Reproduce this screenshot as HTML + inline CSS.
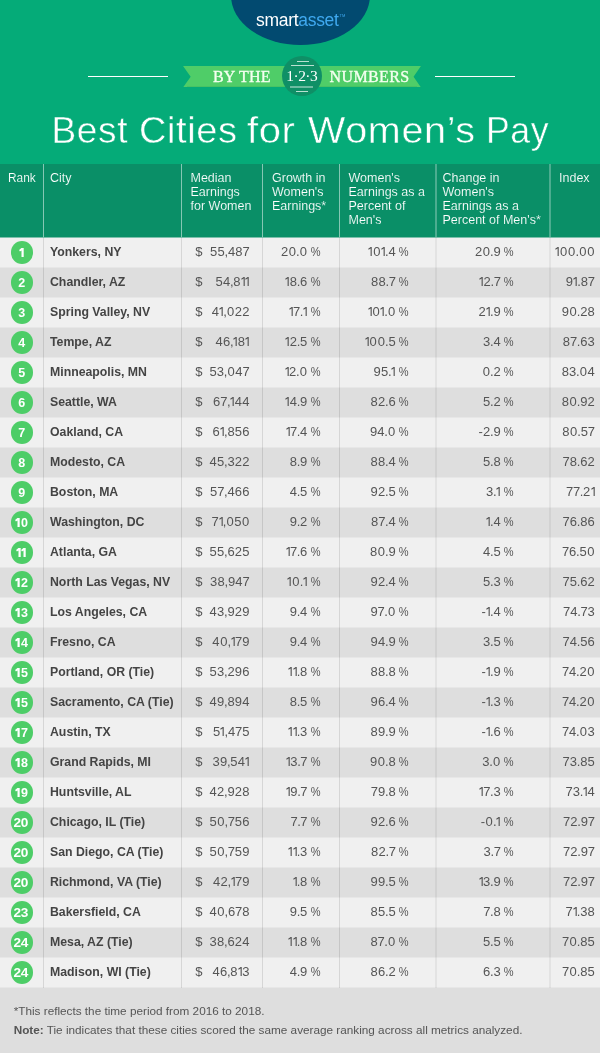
<!DOCTYPE html>
<html><head><meta charset="utf-8"><title>Best Cities for Women's Pay</title>
<style>
html,body{margin:0;padding:0;}
body{width:600px;height:1053px;position:relative;overflow:hidden;background:#05ab78;font-family:"Liberation Sans",sans-serif;}
.abs{position:absolute;}
#ell{left:230.5px;top:-54.5px;width:139px;height:99px;border-radius:50%;background:#024a70;}
#logo{left:256px;top:8.7px;height:22px;line-height:22px;font-size:17.5px;color:#fff;letter-spacing:-0.3px;white-space:nowrap;}
#logo .b{color:#3fa9f0;}
#logo .tm{font-size:4px;position:relative;top:-9px;left:1px;letter-spacing:0;color:#3fa9f0;-webkit-text-stroke:0;}
.hl{height:1.5px;background:#fff;top:75.6px;}
.ban{top:65.6px;height:21.2px;background:#4fcd68;}
.bt{font-family:"Liberation Serif",serif;font-size:16px;color:#f4fff0;line-height:21px;top:66.2px;white-space:nowrap;letter-spacing:0.2px;-webkit-text-stroke:0.35px #f4fff0;}
#circ{left:282px;top:56.2px;width:40px;height:40px;border-radius:50%;background:#0f8f66;}
#c123{font-family:"Liberation Serif",serif;font-size:15.5px;color:#fff;left:282px;width:40px;text-align:center;top:65.7px;line-height:20px;white-space:nowrap;letter-spacing:-0.55px;text-indent:-0.5px;}
.cl{background:#b9e0d1;height:1px;}
.tw{top:105.8px;font-size:37px;line-height:50px;color:#fff;white-space:nowrap;-webkit-text-stroke:0.45px #05ab78;letter-spacing:0.6px;transform-origin:0 50%;}
#thead{left:0;top:164px;width:600px;height:74px;background:#0a8f67;}
.th{color:#fff;font-size:12.5px;line-height:14px;top:171.4px;white-space:nowrap;-webkit-text-stroke:0.12px #0a8f67;}
.hd{top:164px;height:74px;width:1px;background:rgba(255,255,255,.5);}
.hd.w2{width:2px;background:rgba(255,255,255,.27);}
.row{left:0;width:600px;height:30px;}
.odd{background:#f0f0f0;}
.even{background:#dedede;}
.vd{top:238px;height:749.5px;width:1px;background:rgba(0,0,0,.105);}
.vd.w2{width:2px;background:rgba(0,0,0,.052);}
.rk .w{display:inline-block;transform:scaleX(1.09);letter-spacing:-0.45px;}
.bl{left:0;width:600px;height:1px;background:#e7e7e7;}
.rk{left:10.75px;width:22.2px;height:22.5px;border-radius:50%;background:#4dcd67;color:#fff;font-weight:bold;font-size:12.5px;line-height:24.5px;text-align:center;letter-spacing:-0.6px;text-indent:-0.8px;}
.city{left:50px;font-weight:bold;font-size:13px;color:#444;line-height:30px;white-space:nowrap;transform-origin:0 50%;transform:scaleX(0.945);}
.num{font-size:13px;color:#555;line-height:30px;white-space:nowrap;text-align:right;letter-spacing:0.2px;}
.num i{font-style:normal;}
.o{width:4.5px;height:9.1px;fill:#555;overflow:visible;}
.bo{width:5.6px;height:8.9px;fill:#fff;overflow:visible;}
.num .d0{margin:0 0.33px;}
.num .d7{margin:0 -0.25px;}
.num .dp{margin:0 -0.45px;}
.pct{font-size:13px;color:#555;line-height:30px;transform-origin:100% 50%;transform:scaleX(0.85);}
.dol{left:195.3px;font-size:13px;color:#555;line-height:30px;}
#foot{left:0;top:987px;width:600px;height:66px;background:#dedede;}
.fn{left:13.7px;font-size:11.75px;color:#555;white-space:nowrap;line-height:14px;transform-origin:0 50%;}
</style></head>
<body>
<div id="wrap" style="position:absolute;left:0;top:0;width:600px;height:1053px;will-change:transform;">
<svg width="0" height="0" style="position:absolute"><defs><path id="o1" d="M2.65 0H3.75V9.1H2.6V1.45L0.65 2.75L0.2 1.85Z"/><path id="b1" d="M2.4 0H4.7V8.9H2.5V2.5L0.9 3.6L0.1 2.0Z"/></defs></svg>
<div class="abs" id="ell"></div>
<div class="abs" id="logo">smart<span class="b">asset</span><span class="tm">TM</span></div>
<div class="abs hl" style="left:88px;width:80px"></div>
<div class="abs hl" style="left:434.5px;width:80px"></div>
<svg class="abs" style="left:183px;top:65.6px" width="238" height="21.4" viewBox="0 0 238 21.4"><polygon points="0,0 238,0 230.6,10.7 238,21.4 0,21.4 7.6,10.7" fill="#4fcd68"/><rect x="4" y="20.2" width="230" height="1.2" fill="#3fb55e" opacity="0.55"/></svg>
<div class="abs bt" style="left:213px">BY THE</div>
<div class="abs bt" style="left:329.6px;letter-spacing:0.38px">NUMBERS</div>
<div class="abs" id="circ"></div>
<div class="abs cl" style="left:297px;width:11.5px;top:60.8px"></div>
<div class="abs cl" style="left:291px;width:23px;top:65px"></div>
<div class="abs cl" style="left:290px;width:23px;top:86.2px;height:1.6px;opacity:.55"></div>
<div class="abs cl" style="left:296px;width:12px;top:90.8px"></div>
<div class="abs" id="c123">1&middot;2&middot;3</div>
<div class="abs tw" style="left:51.6px;transform:scaleX(1.0)">Best</div>
<div class="abs tw" style="left:138.7px;transform:scaleX(1.027)">Cities</div>
<div class="abs tw" style="left:247.2px;transform:scaleX(1.08)">for</div>
<div class="abs tw" style="left:308.2px;transform:scaleX(1.068)">Women&rsquo;s</div>
<div class="abs tw" style="left:485.7px;transform:scaleX(0.963)">Pay</div>
<div class="abs" id="thead"></div>
<div class="abs hd" style="left:43px"></div>
<div class="abs hd" style="left:181px"></div>
<div class="abs hd" style="left:262px"></div>
<div class="abs hd" style="left:339px"></div>
<div class="abs hd w2" style="left:435px"></div>
<div class="abs hd w2" style="left:549px"></div>
<div class="abs th" style="left:7.5px"><span style="display:inline-block;transform:scaleX(.95);transform-origin:0 50%">Rank</span></div>
<div class="abs th" style="left:50px">City</div>
<div class="abs th" style="left:190.5px">Median<br>Earnings<br>for Women</div>
<div class="abs th" style="left:272px">Growth in<br>Women's<br>Earnings*</div>
<div class="abs th" style="left:348.5px">Women's<br>Earnings as a<br>Percent of<br>Men's</div>
<div class="abs th" style="left:442.5px">Change in<br>Women's<br>Earnings as a<br>Percent of Men's*</div>
<div class="abs th" style="left:559px">Index</div>
<div class="abs row odd" style="top:237px"></div>
<div class="abs row even" style="top:267px"></div>
<div class="abs row odd" style="top:297px"></div>
<div class="abs row even" style="top:327px"></div>
<div class="abs row odd" style="top:357px"></div>
<div class="abs row even" style="top:387px"></div>
<div class="abs row odd" style="top:417px"></div>
<div class="abs row even" style="top:447px"></div>
<div class="abs row odd" style="top:477px"></div>
<div class="abs row even" style="top:507px"></div>
<div class="abs row odd" style="top:537px"></div>
<div class="abs row even" style="top:567px"></div>
<div class="abs row odd" style="top:597px"></div>
<div class="abs row even" style="top:627px"></div>
<div class="abs row odd" style="top:657px"></div>
<div class="abs row even" style="top:687px"></div>
<div class="abs row odd" style="top:717px"></div>
<div class="abs row even" style="top:747px"></div>
<div class="abs row odd" style="top:777px"></div>
<div class="abs row even" style="top:807px"></div>
<div class="abs row odd" style="top:837px"></div>
<div class="abs row even" style="top:867px"></div>
<div class="abs row odd" style="top:897px"></div>
<div class="abs row even" style="top:927px"></div>
<div class="abs row odd" style="top:957px"></div>
<div class="abs" id="foot"></div>
<div class="abs" style="left:0;width:600px;height:1px;top:237px;background:#7dc0ac"></div>
<div class="abs bl" style="top:267px"></div>
<div class="abs bl" style="top:297px"></div>
<div class="abs bl" style="top:327px"></div>
<div class="abs bl" style="top:357px"></div>
<div class="abs bl" style="top:387px"></div>
<div class="abs bl" style="top:417px"></div>
<div class="abs bl" style="top:447px"></div>
<div class="abs bl" style="top:477px"></div>
<div class="abs bl" style="top:507px"></div>
<div class="abs bl" style="top:537px"></div>
<div class="abs bl" style="top:567px"></div>
<div class="abs bl" style="top:597px"></div>
<div class="abs bl" style="top:627px"></div>
<div class="abs bl" style="top:657px"></div>
<div class="abs bl" style="top:687px"></div>
<div class="abs bl" style="top:717px"></div>
<div class="abs bl" style="top:747px"></div>
<div class="abs bl" style="top:777px"></div>
<div class="abs bl" style="top:807px"></div>
<div class="abs bl" style="top:837px"></div>
<div class="abs bl" style="top:867px"></div>
<div class="abs bl" style="top:897px"></div>
<div class="abs bl" style="top:927px"></div>
<div class="abs bl" style="top:957px"></div>
<div class="abs bl" style="top:987px"></div>
<div class="abs vd" style="left:43px"></div>
<div class="abs vd" style="left:181px"></div>
<div class="abs vd" style="left:262px"></div>
<div class="abs vd" style="left:339px"></div>
<div class="abs vd w2" style="left:435px"></div>
<div class="abs vd w2" style="left:549px"></div>
<div class="abs rk" style="top:241.25px"><svg class="bo"><use href="#b1"/></svg></div>
<div class="abs city" style="top:236.60px">Yonkers, NY</div>
<div class="abs dol" style="top:236.60px">$</div>
<div class="abs num" style="top:236.60px;right:350.3px">55<i class="dp">,</i>48<i class="d7">7</i></div>
<div class="abs pct" style="top:236.60px;right:279.7px">%</div>
<div class="abs num" style="top:236.60px;right:292.5px">2<i class="d0">0</i><i class="dp">.</i><i class="d0">0</i></div>
<div class="abs pct" style="top:236.60px;right:191.4px">%</div>
<div class="abs num" style="top:236.60px;right:204.2px"><svg class="o"><use href="#o1"/></svg><i class="d0">0</i><svg class="o"><use href="#o1"/></svg><i class="dp">.</i>4</div>
<div class="abs pct" style="top:236.60px;right:86.4px">%</div>
<div class="abs num" style="top:236.60px;right:99.2px">2<i class="d0">0</i><i class="dp">.</i>9</div>
<div class="abs num" style="top:236.60px;right:5.0px"><svg class="o"><use href="#o1"/></svg><i class="d0">0</i><i class="d0">0</i><i class="dp">.</i><i class="d0">0</i><i class="d0">0</i></div>
<div class="abs rk" style="top:271.25px">2</div>
<div class="abs city" style="top:266.60px">Chandler, AZ</div>
<div class="abs dol" style="top:266.60px">$</div>
<div class="abs num" style="top:266.60px;right:350.3px">54<i class="dp">,</i>8<svg class="o"><use href="#o1"/></svg><svg class="o"><use href="#o1"/></svg></div>
<div class="abs pct" style="top:266.60px;right:279.7px">%</div>
<div class="abs num" style="top:266.60px;right:292.5px"><svg class="o"><use href="#o1"/></svg>8<i class="dp">.</i>6</div>
<div class="abs pct" style="top:266.60px;right:191.4px">%</div>
<div class="abs num" style="top:266.60px;right:204.2px">88<i class="dp">.</i><i class="d7">7</i></div>
<div class="abs pct" style="top:266.60px;right:86.4px">%</div>
<div class="abs num" style="top:266.60px;right:99.2px"><svg class="o"><use href="#o1"/></svg>2<i class="dp">.</i><i class="d7">7</i></div>
<div class="abs num" style="top:266.60px;right:5.0px">9<svg class="o"><use href="#o1"/></svg><i class="dp">.</i>8<i class="d7">7</i></div>
<div class="abs rk" style="top:301.25px">3</div>
<div class="abs city" style="top:296.60px">Spring Valley, NV</div>
<div class="abs dol" style="top:296.60px">$</div>
<div class="abs num" style="top:296.60px;right:350.3px">4<svg class="o"><use href="#o1"/></svg><i class="dp">,</i><i class="d0">0</i>22</div>
<div class="abs pct" style="top:296.60px;right:279.7px">%</div>
<div class="abs num" style="top:296.60px;right:292.5px"><svg class="o"><use href="#o1"/></svg><i class="d7">7</i><i class="dp">.</i><svg class="o"><use href="#o1"/></svg></div>
<div class="abs pct" style="top:296.60px;right:191.4px">%</div>
<div class="abs num" style="top:296.60px;right:204.2px"><svg class="o"><use href="#o1"/></svg><i class="d0">0</i><svg class="o"><use href="#o1"/></svg><i class="dp">.</i><i class="d0">0</i></div>
<div class="abs pct" style="top:296.60px;right:86.4px">%</div>
<div class="abs num" style="top:296.60px;right:99.2px">2<svg class="o"><use href="#o1"/></svg><i class="dp">.</i>9</div>
<div class="abs num" style="top:296.60px;right:5.0px">9<i class="d0">0</i><i class="dp">.</i>28</div>
<div class="abs rk" style="top:331.25px">4</div>
<div class="abs city" style="top:326.60px">Tempe, AZ</div>
<div class="abs dol" style="top:326.60px">$</div>
<div class="abs num" style="top:326.60px;right:350.3px">46<i class="dp">,</i><svg class="o"><use href="#o1"/></svg>8<svg class="o"><use href="#o1"/></svg></div>
<div class="abs pct" style="top:326.60px;right:279.7px">%</div>
<div class="abs num" style="top:326.60px;right:292.5px"><svg class="o"><use href="#o1"/></svg>2<i class="dp">.</i>5</div>
<div class="abs pct" style="top:326.60px;right:191.4px">%</div>
<div class="abs num" style="top:326.60px;right:204.2px"><svg class="o"><use href="#o1"/></svg><i class="d0">0</i><i class="d0">0</i><i class="dp">.</i>5</div>
<div class="abs pct" style="top:326.60px;right:86.4px">%</div>
<div class="abs num" style="top:326.60px;right:99.2px">3<i class="dp">.</i>4</div>
<div class="abs num" style="top:326.60px;right:5.0px">8<i class="d7">7</i><i class="dp">.</i>63</div>
<div class="abs rk" style="top:361.25px">5</div>
<div class="abs city" style="top:356.60px">Minneapolis, MN</div>
<div class="abs dol" style="top:356.60px">$</div>
<div class="abs num" style="top:356.60px;right:350.3px">53<i class="dp">,</i><i class="d0">0</i>4<i class="d7">7</i></div>
<div class="abs pct" style="top:356.60px;right:279.7px">%</div>
<div class="abs num" style="top:356.60px;right:292.5px"><svg class="o"><use href="#o1"/></svg>2<i class="dp">.</i><i class="d0">0</i></div>
<div class="abs pct" style="top:356.60px;right:191.4px">%</div>
<div class="abs num" style="top:356.60px;right:204.2px">95<i class="dp">.</i><svg class="o"><use href="#o1"/></svg></div>
<div class="abs pct" style="top:356.60px;right:86.4px">%</div>
<div class="abs num" style="top:356.60px;right:99.2px"><i class="d0">0</i><i class="dp">.</i>2</div>
<div class="abs num" style="top:356.60px;right:5.0px">83<i class="dp">.</i><i class="d0">0</i>4</div>
<div class="abs rk" style="top:391.25px">6</div>
<div class="abs city" style="top:386.60px">Seattle, WA</div>
<div class="abs dol" style="top:386.60px">$</div>
<div class="abs num" style="top:386.60px;right:350.3px">6<i class="d7">7</i><i class="dp">,</i><svg class="o"><use href="#o1"/></svg>44</div>
<div class="abs pct" style="top:386.60px;right:279.7px">%</div>
<div class="abs num" style="top:386.60px;right:292.5px"><svg class="o"><use href="#o1"/></svg>4<i class="dp">.</i>9</div>
<div class="abs pct" style="top:386.60px;right:191.4px">%</div>
<div class="abs num" style="top:386.60px;right:204.2px">82<i class="dp">.</i>6</div>
<div class="abs pct" style="top:386.60px;right:86.4px">%</div>
<div class="abs num" style="top:386.60px;right:99.2px">5<i class="dp">.</i>2</div>
<div class="abs num" style="top:386.60px;right:5.0px">8<i class="d0">0</i><i class="dp">.</i>92</div>
<div class="abs rk" style="top:421.25px">7</div>
<div class="abs city" style="top:416.60px">Oakland, CA</div>
<div class="abs dol" style="top:416.60px">$</div>
<div class="abs num" style="top:416.60px;right:350.3px">6<svg class="o"><use href="#o1"/></svg><i class="dp">,</i>856</div>
<div class="abs pct" style="top:416.60px;right:279.7px">%</div>
<div class="abs num" style="top:416.60px;right:292.5px"><svg class="o"><use href="#o1"/></svg><i class="d7">7</i><i class="dp">.</i>4</div>
<div class="abs pct" style="top:416.60px;right:191.4px">%</div>
<div class="abs num" style="top:416.60px;right:204.2px">94<i class="dp">.</i><i class="d0">0</i></div>
<div class="abs pct" style="top:416.60px;right:86.4px">%</div>
<div class="abs num" style="top:416.60px;right:99.2px">-2<i class="dp">.</i>9</div>
<div class="abs num" style="top:416.60px;right:5.0px">8<i class="d0">0</i><i class="dp">.</i>5<i class="d7">7</i></div>
<div class="abs rk" style="top:451.25px">8</div>
<div class="abs city" style="top:446.60px">Modesto, CA</div>
<div class="abs dol" style="top:446.60px">$</div>
<div class="abs num" style="top:446.60px;right:350.3px">45<i class="dp">,</i>322</div>
<div class="abs pct" style="top:446.60px;right:279.7px">%</div>
<div class="abs num" style="top:446.60px;right:292.5px">8<i class="dp">.</i>9</div>
<div class="abs pct" style="top:446.60px;right:191.4px">%</div>
<div class="abs num" style="top:446.60px;right:204.2px">88<i class="dp">.</i>4</div>
<div class="abs pct" style="top:446.60px;right:86.4px">%</div>
<div class="abs num" style="top:446.60px;right:99.2px">5<i class="dp">.</i>8</div>
<div class="abs num" style="top:446.60px;right:5.0px"><i class="d7">7</i>8<i class="dp">.</i>62</div>
<div class="abs rk" style="top:481.25px">9</div>
<div class="abs city" style="top:476.60px">Boston, MA</div>
<div class="abs dol" style="top:476.60px">$</div>
<div class="abs num" style="top:476.60px;right:350.3px">5<i class="d7">7</i><i class="dp">,</i>466</div>
<div class="abs pct" style="top:476.60px;right:279.7px">%</div>
<div class="abs num" style="top:476.60px;right:292.5px">4<i class="dp">.</i>5</div>
<div class="abs pct" style="top:476.60px;right:191.4px">%</div>
<div class="abs num" style="top:476.60px;right:204.2px">92<i class="dp">.</i>5</div>
<div class="abs pct" style="top:476.60px;right:86.4px">%</div>
<div class="abs num" style="top:476.60px;right:99.2px">3<i class="dp">.</i><svg class="o"><use href="#o1"/></svg></div>
<div class="abs num" style="top:476.60px;right:5.0px"><i class="d7">7</i><i class="d7">7</i><i class="dp">.</i>2<svg class="o"><use href="#o1"/></svg></div>
<div class="abs rk" style="top:511.25px"><svg class="bo"><use href="#b1"/></svg>0</div>
<div class="abs city" style="top:506.60px">Washington, DC</div>
<div class="abs dol" style="top:506.60px">$</div>
<div class="abs num" style="top:506.60px;right:350.3px"><i class="d7">7</i><svg class="o"><use href="#o1"/></svg><i class="dp">,</i><i class="d0">0</i>5<i class="d0">0</i></div>
<div class="abs pct" style="top:506.60px;right:279.7px">%</div>
<div class="abs num" style="top:506.60px;right:292.5px">9<i class="dp">.</i>2</div>
<div class="abs pct" style="top:506.60px;right:191.4px">%</div>
<div class="abs num" style="top:506.60px;right:204.2px">8<i class="d7">7</i><i class="dp">.</i>4</div>
<div class="abs pct" style="top:506.60px;right:86.4px">%</div>
<div class="abs num" style="top:506.60px;right:99.2px"><svg class="o"><use href="#o1"/></svg><i class="dp">.</i>4</div>
<div class="abs num" style="top:506.60px;right:5.0px"><i class="d7">7</i>6<i class="dp">.</i>86</div>
<div class="abs rk" style="top:541.25px"><svg class="bo"><use href="#b1"/></svg><svg class="bo"><use href="#b1"/></svg></div>
<div class="abs city" style="top:536.60px">Atlanta, GA</div>
<div class="abs dol" style="top:536.60px">$</div>
<div class="abs num" style="top:536.60px;right:350.3px">55<i class="dp">,</i>625</div>
<div class="abs pct" style="top:536.60px;right:279.7px">%</div>
<div class="abs num" style="top:536.60px;right:292.5px"><svg class="o"><use href="#o1"/></svg><i class="d7">7</i><i class="dp">.</i>6</div>
<div class="abs pct" style="top:536.60px;right:191.4px">%</div>
<div class="abs num" style="top:536.60px;right:204.2px">8<i class="d0">0</i><i class="dp">.</i>9</div>
<div class="abs pct" style="top:536.60px;right:86.4px">%</div>
<div class="abs num" style="top:536.60px;right:99.2px">4<i class="dp">.</i>5</div>
<div class="abs num" style="top:536.60px;right:5.0px"><i class="d7">7</i>6<i class="dp">.</i>5<i class="d0">0</i></div>
<div class="abs rk" style="top:571.25px"><svg class="bo"><use href="#b1"/></svg>2</div>
<div class="abs city" style="top:566.60px">North Las Vegas, NV</div>
<div class="abs dol" style="top:566.60px">$</div>
<div class="abs num" style="top:566.60px;right:350.3px">38<i class="dp">,</i>94<i class="d7">7</i></div>
<div class="abs pct" style="top:566.60px;right:279.7px">%</div>
<div class="abs num" style="top:566.60px;right:292.5px"><svg class="o"><use href="#o1"/></svg><i class="d0">0</i><i class="dp">.</i><svg class="o"><use href="#o1"/></svg></div>
<div class="abs pct" style="top:566.60px;right:191.4px">%</div>
<div class="abs num" style="top:566.60px;right:204.2px">92<i class="dp">.</i>4</div>
<div class="abs pct" style="top:566.60px;right:86.4px">%</div>
<div class="abs num" style="top:566.60px;right:99.2px">5<i class="dp">.</i>3</div>
<div class="abs num" style="top:566.60px;right:5.0px"><i class="d7">7</i>5<i class="dp">.</i>62</div>
<div class="abs rk" style="top:601.25px"><svg class="bo"><use href="#b1"/></svg>3</div>
<div class="abs city" style="top:596.60px">Los Angeles, CA</div>
<div class="abs dol" style="top:596.60px">$</div>
<div class="abs num" style="top:596.60px;right:350.3px">43<i class="dp">,</i>929</div>
<div class="abs pct" style="top:596.60px;right:279.7px">%</div>
<div class="abs num" style="top:596.60px;right:292.5px">9<i class="dp">.</i>4</div>
<div class="abs pct" style="top:596.60px;right:191.4px">%</div>
<div class="abs num" style="top:596.60px;right:204.2px">9<i class="d7">7</i><i class="dp">.</i><i class="d0">0</i></div>
<div class="abs pct" style="top:596.60px;right:86.4px">%</div>
<div class="abs num" style="top:596.60px;right:99.2px">-<svg class="o"><use href="#o1"/></svg><i class="dp">.</i>4</div>
<div class="abs num" style="top:596.60px;right:5.0px"><i class="d7">7</i>4<i class="dp">.</i><i class="d7">7</i>3</div>
<div class="abs rk" style="top:631.25px"><svg class="bo"><use href="#b1"/></svg>4</div>
<div class="abs city" style="top:626.60px">Fresno, CA</div>
<div class="abs dol" style="top:626.60px">$</div>
<div class="abs num" style="top:626.60px;right:350.3px">4<i class="d0">0</i><i class="dp">,</i><svg class="o"><use href="#o1"/></svg><i class="d7">7</i>9</div>
<div class="abs pct" style="top:626.60px;right:279.7px">%</div>
<div class="abs num" style="top:626.60px;right:292.5px">9<i class="dp">.</i>4</div>
<div class="abs pct" style="top:626.60px;right:191.4px">%</div>
<div class="abs num" style="top:626.60px;right:204.2px">94<i class="dp">.</i>9</div>
<div class="abs pct" style="top:626.60px;right:86.4px">%</div>
<div class="abs num" style="top:626.60px;right:99.2px">3<i class="dp">.</i>5</div>
<div class="abs num" style="top:626.60px;right:5.0px"><i class="d7">7</i>4<i class="dp">.</i>56</div>
<div class="abs rk" style="top:661.25px"><svg class="bo"><use href="#b1"/></svg>5</div>
<div class="abs city" style="top:656.60px">Portland, OR (Tie)</div>
<div class="abs dol" style="top:656.60px">$</div>
<div class="abs num" style="top:656.60px;right:350.3px">53<i class="dp">,</i>296</div>
<div class="abs pct" style="top:656.60px;right:279.7px">%</div>
<div class="abs num" style="top:656.60px;right:292.5px"><svg class="o"><use href="#o1"/></svg><svg class="o"><use href="#o1"/></svg><i class="dp">.</i>8</div>
<div class="abs pct" style="top:656.60px;right:191.4px">%</div>
<div class="abs num" style="top:656.60px;right:204.2px">88<i class="dp">.</i>8</div>
<div class="abs pct" style="top:656.60px;right:86.4px">%</div>
<div class="abs num" style="top:656.60px;right:99.2px">-<svg class="o"><use href="#o1"/></svg><i class="dp">.</i>9</div>
<div class="abs num" style="top:656.60px;right:5.0px"><i class="d7">7</i>4<i class="dp">.</i>2<i class="d0">0</i></div>
<div class="abs rk" style="top:691.25px"><svg class="bo"><use href="#b1"/></svg>5</div>
<div class="abs city" style="top:686.60px">Sacramento, CA (Tie)</div>
<div class="abs dol" style="top:686.60px">$</div>
<div class="abs num" style="top:686.60px;right:350.3px">49<i class="dp">,</i>894</div>
<div class="abs pct" style="top:686.60px;right:279.7px">%</div>
<div class="abs num" style="top:686.60px;right:292.5px">8<i class="dp">.</i>5</div>
<div class="abs pct" style="top:686.60px;right:191.4px">%</div>
<div class="abs num" style="top:686.60px;right:204.2px">96<i class="dp">.</i>4</div>
<div class="abs pct" style="top:686.60px;right:86.4px">%</div>
<div class="abs num" style="top:686.60px;right:99.2px">-<svg class="o"><use href="#o1"/></svg><i class="dp">.</i>3</div>
<div class="abs num" style="top:686.60px;right:5.0px"><i class="d7">7</i>4<i class="dp">.</i>2<i class="d0">0</i></div>
<div class="abs rk" style="top:721.25px"><svg class="bo"><use href="#b1"/></svg>7</div>
<div class="abs city" style="top:716.60px">Austin, TX</div>
<div class="abs dol" style="top:716.60px">$</div>
<div class="abs num" style="top:716.60px;right:350.3px">5<svg class="o"><use href="#o1"/></svg><i class="dp">,</i>4<i class="d7">7</i>5</div>
<div class="abs pct" style="top:716.60px;right:279.7px">%</div>
<div class="abs num" style="top:716.60px;right:292.5px"><svg class="o"><use href="#o1"/></svg><svg class="o"><use href="#o1"/></svg><i class="dp">.</i>3</div>
<div class="abs pct" style="top:716.60px;right:191.4px">%</div>
<div class="abs num" style="top:716.60px;right:204.2px">89<i class="dp">.</i>9</div>
<div class="abs pct" style="top:716.60px;right:86.4px">%</div>
<div class="abs num" style="top:716.60px;right:99.2px">-<svg class="o"><use href="#o1"/></svg><i class="dp">.</i>6</div>
<div class="abs num" style="top:716.60px;right:5.0px"><i class="d7">7</i>4<i class="dp">.</i><i class="d0">0</i>3</div>
<div class="abs rk" style="top:751.25px"><svg class="bo"><use href="#b1"/></svg>8</div>
<div class="abs city" style="top:746.60px">Grand Rapids, MI</div>
<div class="abs dol" style="top:746.60px">$</div>
<div class="abs num" style="top:746.60px;right:350.3px">39<i class="dp">,</i>54<svg class="o"><use href="#o1"/></svg></div>
<div class="abs pct" style="top:746.60px;right:279.7px">%</div>
<div class="abs num" style="top:746.60px;right:292.5px"><svg class="o"><use href="#o1"/></svg>3<i class="dp">.</i><i class="d7">7</i></div>
<div class="abs pct" style="top:746.60px;right:191.4px">%</div>
<div class="abs num" style="top:746.60px;right:204.2px">9<i class="d0">0</i><i class="dp">.</i>8</div>
<div class="abs pct" style="top:746.60px;right:86.4px">%</div>
<div class="abs num" style="top:746.60px;right:99.2px">3<i class="dp">.</i><i class="d0">0</i></div>
<div class="abs num" style="top:746.60px;right:5.0px"><i class="d7">7</i>3<i class="dp">.</i>85</div>
<div class="abs rk" style="top:781.25px"><svg class="bo"><use href="#b1"/></svg>9</div>
<div class="abs city" style="top:776.60px">Huntsville, AL</div>
<div class="abs dol" style="top:776.60px">$</div>
<div class="abs num" style="top:776.60px;right:350.3px">42<i class="dp">,</i>928</div>
<div class="abs pct" style="top:776.60px;right:279.7px">%</div>
<div class="abs num" style="top:776.60px;right:292.5px"><svg class="o"><use href="#o1"/></svg>9<i class="dp">.</i><i class="d7">7</i></div>
<div class="abs pct" style="top:776.60px;right:191.4px">%</div>
<div class="abs num" style="top:776.60px;right:204.2px"><i class="d7">7</i>9<i class="dp">.</i>8</div>
<div class="abs pct" style="top:776.60px;right:86.4px">%</div>
<div class="abs num" style="top:776.60px;right:99.2px"><svg class="o"><use href="#o1"/></svg><i class="d7">7</i><i class="dp">.</i>3</div>
<div class="abs num" style="top:776.60px;right:5.0px"><i class="d7">7</i>3<i class="dp">.</i><svg class="o"><use href="#o1"/></svg>4</div>
<div class="abs rk" style="top:811.25px"><span class="w">20</span></div>
<div class="abs city" style="top:806.60px">Chicago, IL (Tie)</div>
<div class="abs dol" style="top:806.60px">$</div>
<div class="abs num" style="top:806.60px;right:350.3px">5<i class="d0">0</i><i class="dp">,</i><i class="d7">7</i>56</div>
<div class="abs pct" style="top:806.60px;right:279.7px">%</div>
<div class="abs num" style="top:806.60px;right:292.5px"><i class="d7">7</i><i class="dp">.</i><i class="d7">7</i></div>
<div class="abs pct" style="top:806.60px;right:191.4px">%</div>
<div class="abs num" style="top:806.60px;right:204.2px">92<i class="dp">.</i>6</div>
<div class="abs pct" style="top:806.60px;right:86.4px">%</div>
<div class="abs num" style="top:806.60px;right:99.2px">-<i class="d0">0</i><i class="dp">.</i><svg class="o"><use href="#o1"/></svg></div>
<div class="abs num" style="top:806.60px;right:5.0px"><i class="d7">7</i>2<i class="dp">.</i>9<i class="d7">7</i></div>
<div class="abs rk" style="top:841.25px"><span class="w">20</span></div>
<div class="abs city" style="top:836.60px">San Diego, CA (Tie)</div>
<div class="abs dol" style="top:836.60px">$</div>
<div class="abs num" style="top:836.60px;right:350.3px">5<i class="d0">0</i><i class="dp">,</i><i class="d7">7</i>59</div>
<div class="abs pct" style="top:836.60px;right:279.7px">%</div>
<div class="abs num" style="top:836.60px;right:292.5px"><svg class="o"><use href="#o1"/></svg><svg class="o"><use href="#o1"/></svg><i class="dp">.</i>3</div>
<div class="abs pct" style="top:836.60px;right:191.4px">%</div>
<div class="abs num" style="top:836.60px;right:204.2px">82<i class="dp">.</i><i class="d7">7</i></div>
<div class="abs pct" style="top:836.60px;right:86.4px">%</div>
<div class="abs num" style="top:836.60px;right:99.2px">3<i class="dp">.</i><i class="d7">7</i></div>
<div class="abs num" style="top:836.60px;right:5.0px"><i class="d7">7</i>2<i class="dp">.</i>9<i class="d7">7</i></div>
<div class="abs rk" style="top:871.25px"><span class="w">20</span></div>
<div class="abs city" style="top:866.60px">Richmond, VA (Tie)</div>
<div class="abs dol" style="top:866.60px">$</div>
<div class="abs num" style="top:866.60px;right:350.3px">42<i class="dp">,</i><svg class="o"><use href="#o1"/></svg><i class="d7">7</i>9</div>
<div class="abs pct" style="top:866.60px;right:279.7px">%</div>
<div class="abs num" style="top:866.60px;right:292.5px"><svg class="o"><use href="#o1"/></svg><i class="dp">.</i>8</div>
<div class="abs pct" style="top:866.60px;right:191.4px">%</div>
<div class="abs num" style="top:866.60px;right:204.2px">99<i class="dp">.</i>5</div>
<div class="abs pct" style="top:866.60px;right:86.4px">%</div>
<div class="abs num" style="top:866.60px;right:99.2px"><svg class="o"><use href="#o1"/></svg>3<i class="dp">.</i>9</div>
<div class="abs num" style="top:866.60px;right:5.0px"><i class="d7">7</i>2<i class="dp">.</i>9<i class="d7">7</i></div>
<div class="abs rk" style="top:901.25px"><span class="w">23</span></div>
<div class="abs city" style="top:896.60px">Bakersfield, CA</div>
<div class="abs dol" style="top:896.60px">$</div>
<div class="abs num" style="top:896.60px;right:350.3px">4<i class="d0">0</i><i class="dp">,</i>6<i class="d7">7</i>8</div>
<div class="abs pct" style="top:896.60px;right:279.7px">%</div>
<div class="abs num" style="top:896.60px;right:292.5px">9<i class="dp">.</i>5</div>
<div class="abs pct" style="top:896.60px;right:191.4px">%</div>
<div class="abs num" style="top:896.60px;right:204.2px">85<i class="dp">.</i>5</div>
<div class="abs pct" style="top:896.60px;right:86.4px">%</div>
<div class="abs num" style="top:896.60px;right:99.2px"><i class="d7">7</i><i class="dp">.</i>8</div>
<div class="abs num" style="top:896.60px;right:5.0px"><i class="d7">7</i><svg class="o"><use href="#o1"/></svg><i class="dp">.</i>38</div>
<div class="abs rk" style="top:931.25px"><span class="w">24</span></div>
<div class="abs city" style="top:926.60px">Mesa, AZ (Tie)</div>
<div class="abs dol" style="top:926.60px">$</div>
<div class="abs num" style="top:926.60px;right:350.3px">38<i class="dp">,</i>624</div>
<div class="abs pct" style="top:926.60px;right:279.7px">%</div>
<div class="abs num" style="top:926.60px;right:292.5px"><svg class="o"><use href="#o1"/></svg><svg class="o"><use href="#o1"/></svg><i class="dp">.</i>8</div>
<div class="abs pct" style="top:926.60px;right:191.4px">%</div>
<div class="abs num" style="top:926.60px;right:204.2px">8<i class="d7">7</i><i class="dp">.</i><i class="d0">0</i></div>
<div class="abs pct" style="top:926.60px;right:86.4px">%</div>
<div class="abs num" style="top:926.60px;right:99.2px">5<i class="dp">.</i>5</div>
<div class="abs num" style="top:926.60px;right:5.0px"><i class="d7">7</i><i class="d0">0</i><i class="dp">.</i>85</div>
<div class="abs rk" style="top:961.25px"><span class="w">24</span></div>
<div class="abs city" style="top:956.60px">Madison, WI (Tie)</div>
<div class="abs dol" style="top:956.60px">$</div>
<div class="abs num" style="top:956.60px;right:350.3px">46<i class="dp">,</i>8<svg class="o"><use href="#o1"/></svg>3</div>
<div class="abs pct" style="top:956.60px;right:279.7px">%</div>
<div class="abs num" style="top:956.60px;right:292.5px">4<i class="dp">.</i>9</div>
<div class="abs pct" style="top:956.60px;right:191.4px">%</div>
<div class="abs num" style="top:956.60px;right:204.2px">86<i class="dp">.</i>2</div>
<div class="abs pct" style="top:956.60px;right:86.4px">%</div>
<div class="abs num" style="top:956.60px;right:99.2px">6<i class="dp">.</i>3</div>
<div class="abs num" style="top:956.60px;right:5.0px"><i class="d7">7</i><i class="d0">0</i><i class="dp">.</i>85</div>
<div class="abs fn" style="top:1003.8px">*This reflects the time period from 2016 to 2018.</div>
<div class="abs fn" style="top:1023.2px"><b>Note:</b> Tie indicates that these cities scored the same average ranking across all metrics analyzed.</div>
</div>
</body></html>
